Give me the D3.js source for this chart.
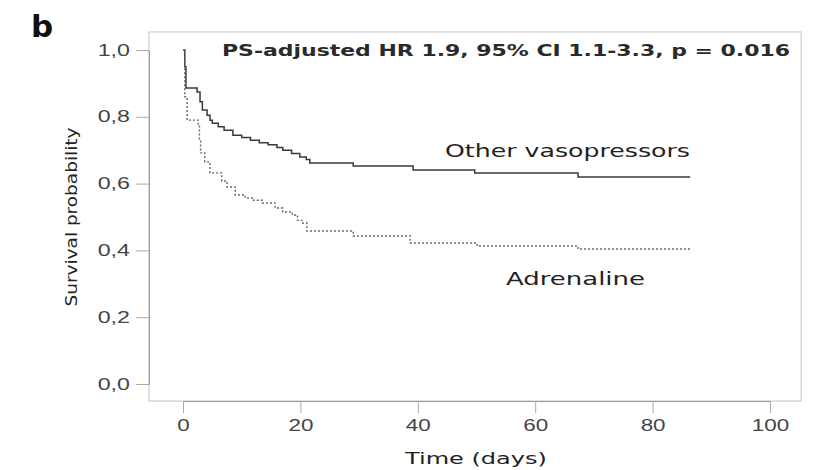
<!DOCTYPE html>
<html>
<head>
<meta charset="utf-8">
<script src="https://cdn.jsdelivr.net/npm/d3@7"></script>
<style>
  body { margin: 0; background: #fff; }
  svg { font-family: "DejaVu Sans", Verdana, sans-serif; }
</style>
</head>
<body>
<script>
// survival curves (days, probability)
const otherTimes = [0, 0.3, 0.5, 2.4, 2.9, 3.3, 4.1, 4.6, 5.0, 6, 7, 8.5, 10, 11.5, 13, 14.5, 16, 17, 18.5, 19.9, 21, 21.6, 29, 39.2, 49.7, 67.3, 86.4];
const otherSurv  = [1.0, 0.95, 0.886, 0.874, 0.845, 0.82, 0.805, 0.79, 0.781, 0.77, 0.76, 0.745, 0.738, 0.73, 0.722, 0.716, 0.708, 0.70, 0.69, 0.68, 0.672, 0.662, 0.653, 0.641, 0.632, 0.62, 0.62];

const adrTimes = [0, 0.3, 0.7, 2.6, 2.8, 3.0, 3.7, 4.6, 6.6, 7.5, 8.9, 10.6, 12, 13.5, 15.7, 17, 18.6, 19.5, 20.4, 21.1, 29, 38.7, 50.1, 67.3, 86.4];
const adrSurv  = [1.0, 0.86, 0.79, 0.775, 0.73, 0.692, 0.665, 0.632, 0.608, 0.59, 0.566, 0.557, 0.55, 0.542, 0.527, 0.515, 0.506, 0.49, 0.482, 0.458, 0.443, 0.422, 0.413, 0.404, 0.404];

const xTicks = [0, 20, 40, 60, 80, 100];
const yTicks = [0, 0.2, 0.4, 0.6, 0.8, 1.0];

const seriesNames = ["Other vasopressors", "Adrenaline"];
const annotation = "PS-adjusted HR 1.9, 95% CI 1.1-3.3, p = 0.016";

let w = 818;
let h = 470;

let svg = d3.select("body").append("svg")
    .attr("width", w)
    .attr("height", h);

let x = d3.scaleLinear().domain([0, 100]).range([183, 770]);
let y = d3.scaleLinear().domain([0, 1]).range([384, 50]);

// the picture is stretched sideways, so text is widened to match
function stretch(sel, k) {
    sel.each(function () {
        let len = this.getComputedTextLength();
        d3.select(this)
            .attr("textLength", len * k)
            .attr("lengthAdjust", "spacingAndGlyphs");
    });
}

// frame
let frameL = x(-5.8), frameR = x(105.3), frameT = y(1.054), frameB = y(-0.051);
svg.append("rect")
    .attr("x", frameL).attr("y", frameT)
    .attr("width", frameR - frameL).attr("height", frameB - frameT)
    .attr("fill", "none")
    .attr("stroke", "#c4c4c4")
    .attr("stroke-width", 1);

// y axis
let yAxis = svg.append("g")
    .attr("transform", "translate(" + frameL + ",0)")
    .call(d3.axisLeft(y)
        .tickValues(yTicks)
        .tickSize(13)
        .tickSizeOuter(0)
        .tickPadding(6)
        .tickFormat(d => d3.format(".1f")(d).replace(".", ",")));
yAxis.select(".domain").attr("stroke", "#999");
yAxis.selectAll(".tick line").attr("stroke", "#aaa");
yAxis.selectAll("text")
    .attr("font-size", 16)
    .attr("fill", "#444")
    .call(stretch, 1.45);

// x axis
let xAxis = svg.append("g")
    .attr("transform", "translate(0," + frameB + ")")
    .call(d3.axisBottom(x)
        .tickValues(xTicks)
        .tickSize(12)
        .tickSizeOuter(0)
        .tickPadding(7)
        .tickFormat(d3.format("d")));
xAxis.select(".domain").attr("stroke", "#999");
xAxis.selectAll(".tick line").attr("stroke", "#aaa");
xAxis.selectAll("text")
    .attr("font-size", 16)
    .attr("fill", "#444")
    .call(stretch, 1.4);

// curves
let line = d3.line()
    .x(d => x(d[0]))
    .y(d => y(d[1]))
    .curve(d3.curveStepAfter);

svg.append("path")
    .datum(otherTimes.map((t, i) => [t, otherSurv[i]]))
    .attr("d", line)
    .attr("fill", "none")
    .attr("stroke", "#3a3a3a")
    .attr("stroke-width", 1.5);

svg.append("path")
    .datum(adrTimes.map((t, i) => [t, adrSurv[i]]))
    .attr("d", line)
    .attr("fill", "none")
    .attr("stroke", "#666")
    .attr("stroke-width", 1.4)
    .attr("stroke-dasharray", "2,2");

// texts
svg.append("text")
    .attr("x", 31).attr("y", 37)
    .attr("font-size", 31)
    .attr("font-weight", "bold")
    .attr("fill", "#111")
    .text("b");

svg.append("text")
    .attr("x", 222).attr("y", 56)
    .attr("font-size", 16)
    .attr("font-weight", "bold")
    .attr("fill", "#2a2a2a")
    .attr("textLength", 568)
    .attr("lengthAdjust", "spacingAndGlyphs")
    .text(annotation);

svg.append("text")
    .attr("x", 445).attr("y", 157)
    .attr("font-size", 17)
    .attr("fill", "#222")
    .attr("textLength", 245)
    .attr("lengthAdjust", "spacingAndGlyphs")
    .text(seriesNames[0]);

svg.append("text")
    .attr("x", 506).attr("y", 285)
    .attr("font-size", 17)
    .attr("fill", "#222")
    .attr("textLength", 139)
    .attr("lengthAdjust", "spacingAndGlyphs")
    .text(seriesNames[1]);

svg.append("text")
    .attr("x", 476).attr("y", 464)
    .attr("text-anchor", "middle")
    .attr("font-size", 16)
    .attr("fill", "#222")
    .attr("textLength", 142)
    .attr("lengthAdjust", "spacingAndGlyphs")
    .text("Time (days)");

svg.append("text")
    .attr("transform", "translate(77,217) rotate(-90)")
    .attr("text-anchor", "middle")
    .attr("font-size", 16)
    .attr("fill", "#222")
    .attr("textLength", 179)
    .attr("lengthAdjust", "spacingAndGlyphs")
    .text("Survival probability");
</script>
</body>
</html>
